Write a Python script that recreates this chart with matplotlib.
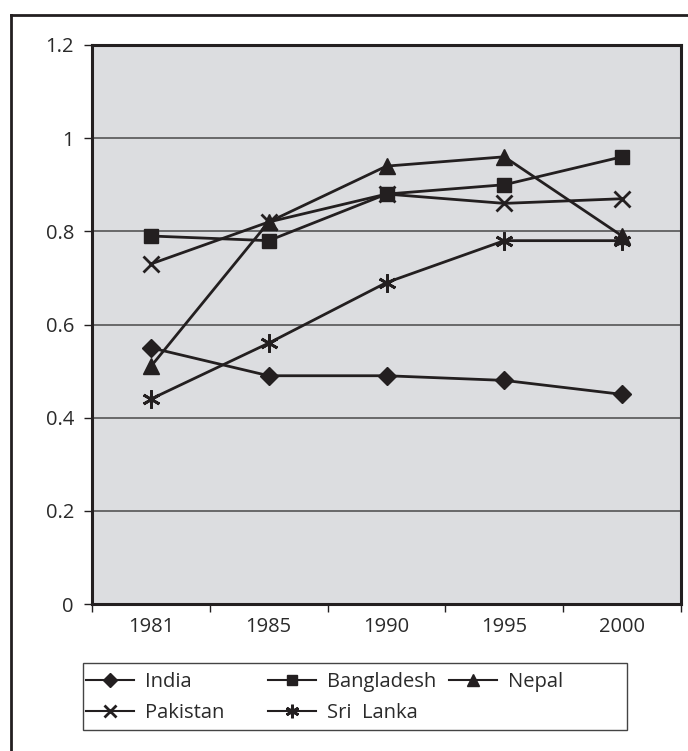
import matplotlib.pyplot as plt
from matplotlib.lines import Line2D
from matplotlib.patches import Rectangle

plt.rcParams['font.family'] = ['Open Sans', 'DejaVu Sans']

years = ["1981", "1985", "1990", "1995", "2000"]
india = [0.55, 0.49, 0.49, 0.48, 0.45]
bangladesh = [0.79, 0.78, 0.88, 0.90, 0.96]
nepal = [0.51, 0.82, 0.94, 0.96, 0.79]
pakistan = [0.73, 0.82, 0.88, 0.86, 0.87]
sri_lanka = [0.44, 0.56, 0.69, 0.78, 0.78]
y_ticks = [0, 0.2, 0.4, 0.6, 0.8, 1, 1.2]
y_labels = ["0", "0.2", "0.4", "0.6", "0.8", "1", "1.2"]

ink = "#231f20"
txt = "#2a2a2a"
fs = 14.5

fig = plt.figure(figsize=(6.88, 7.51), dpi=100)
ax = fig.add_axes([92/688, 1 - 604/751, 589/688, 559/751])
ax.set_facecolor("#dcdde0")

x = list(range(len(years)))
h_india, = ax.plot(x, india, color=ink, lw=2, marker="D", ms=9, label="India")
h_bang, = ax.plot(x, bangladesh, color=ink, lw=2, marker="s", ms=10, label="Bangladesh")
h_nepal, = ax.plot(x, nepal, color=ink, lw=2, marker="^", ms=11, label="Nepal")
h_pak, = ax.plot(x, pakistan, color=ink, lw=2, marker="x", ms=12, mew=2, label="Pakistan")
h_sri, = ax.plot(x, sri_lanka, color=ink, lw=2, marker=(6, 2, 0), ms=13, mew=2, label="Sri  Lanka")

ax.set_ylim(0, 1.2)
ax.set_xlim(-0.5, len(years) - 0.5)
ax.set_yticks(y_ticks)
ax.set_yticklabels(y_labels)
ax.yaxis.grid(True, color="#555555", lw=1.2)
ax.set_axisbelow(True)

ax.set_xticks(x)
ax.set_xticklabels(years)
ax.set_xticks([i - 0.5 for i in range(len(years) + 1)], minor=True)
ax.tick_params(axis="x", which="major", length=0, pad=9, labelsize=fs, labelcolor=txt)
ax.tick_params(axis="x", which="minor", length=6, width=1, color=ink, direction="out")
ax.tick_params(axis="y", length=6, width=1, color=ink, pad=7, labelsize=fs, labelcolor=txt)

for s in ax.spines.values():
    s.set_linewidth(2.2)
    s.set_color(ink)

# legend: three fixed-width columns inside one box
fig.add_artist(Rectangle((83/688, 1 - 730/751), 544/688, 67/751, transform=fig.transFigure,
                         facecolor="white", edgecolor="#444444", lw=1))
columns = [([h_india, h_pak], ["India", "Pakistan"]),
           ([h_bang, h_sri], ["Bangladesh", "Sri  Lanka"]),
           ([h_nepal], ["Nepal"])]
col_x = [86, 268, 449]
for (handles, labels), cx in zip(columns, col_x):
    leg = fig.legend(handles, labels, loc="upper left",
                     bbox_to_anchor=(cx/688, 1 - 672/751),
                     frameon=False, fontsize=fs, handlelength=2.4, handletextpad=0.55,
                     borderaxespad=0, borderpad=0, labelspacing=0.55)
    for t in leg.get_texts():
        t.set_color(txt)
    for lh in leg.legend_handles:
        lh.set_markersize(lh.get_markersize() * 0.75)
        lh.set_linewidth(1.5)

# outer frame of the figure panel
fig.add_artist(Line2D([11/688, 11/688], [0, 1 - 15/751], color=ink, lw=2))
fig.add_artist(Line2D([11/688, 1], [1 - 15/751, 1 - 15/751], color=ink, lw=2))

fig.savefig("out.png", dpi=100)
